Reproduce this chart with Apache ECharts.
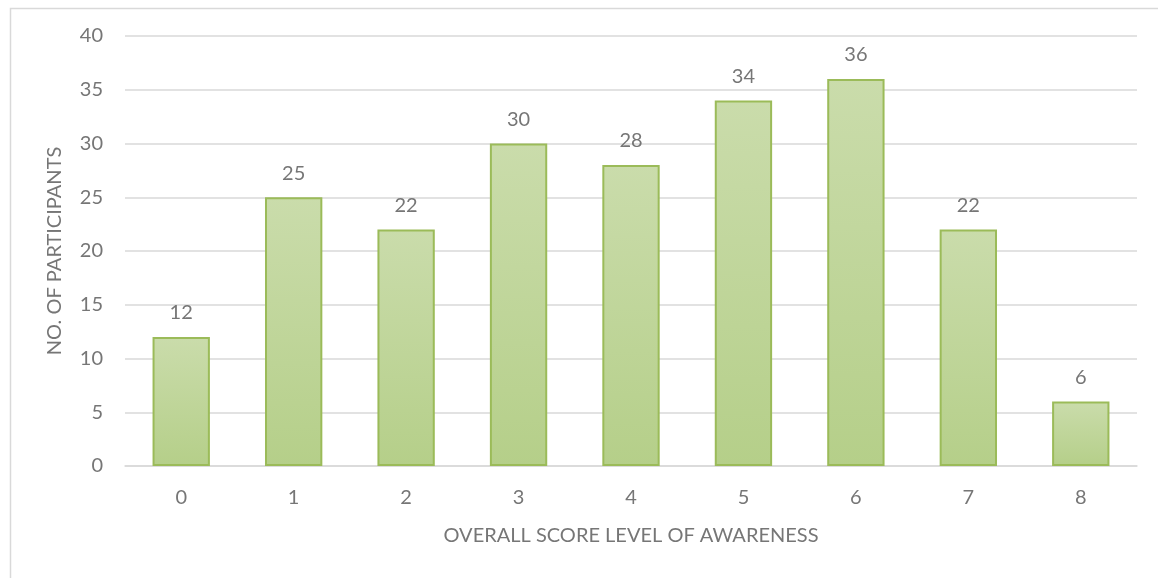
<!DOCTYPE html>
<html><head><meta charset="utf-8">
<script src="https://cdn.jsdelivr.net/npm/echarts@6/dist/echarts.min.js"></script>
<style>html,body{margin:0;padding:0;background:#fff}#c{width:1158px;height:578px}</style>
</head><body><div id="c"></div>
<script>
const categories = ['0','1','2','3','4','5','6','7','8'];
const participants = [12,25,22,30,28,34,36,22,6];
const yTicks = [0,5,10,15,20,25,30,35,40];
const xTitle = 'OVERALL SCORE LEVEL OF AWARENESS';
const yTitle = 'NO. OF PARTICIPANTS';

const chart = echarts.init(document.getElementById('c'), null, {renderer:'canvas'});
const txt = '#767676';
const font = 'Lato, "Open Sans", sans-serif';
chart.setOption({
  animation:false,
  graphic:[{type:'rect',left:8,top:6,shape:{width:1300,height:700},style:{fill:'none',stroke:'#d9d9d9',lineWidth:1.5},silent:true,z:-1}],
  grid:{left:125,right:21,top:36,bottom:112,containLabel:false},
  xAxis:{type:'category',data:categories,
    axisLine:{lineStyle:{color:'#d9d9d9',width:1.5}},axisTick:{show:false},
    axisLabel:{color:txt,fontSize:20,fontFamily:font,margin:22},
    name:xTitle,nameLocation:'middle',nameGap:60,
    nameTextStyle:{color:txt,fontSize:20,fontFamily:font}},
  yAxis:{type:'value',min:yTicks[0],max:yTicks[yTicks.length-1],interval:5,
    axisLine:{show:false},axisTick:{show:false},
    splitLine:{lineStyle:{color:'#d9d9d9',width:1.5}},
    axisLabel:{color:txt,fontSize:20,fontFamily:font,margin:22},
    name:yTitle,nameLocation:'middle',nameGap:60,
    nameTextStyle:{color:txt,fontSize:20,fontFamily:font}},
  series:[{type:'bar',data:participants,barWidth:'51%',
    itemStyle:{color:new echarts.graphic.LinearGradient(0,0,0,1,[{offset:0,color:'#cadcab'},{offset:1,color:'#b5cf89'}]),
      borderColor:'#9bbb59',borderWidth:2},
    label:{show:true,position:'top',distance:14,color:txt,fontSize:20,fontFamily:font}}]
});
</script></body></html>
